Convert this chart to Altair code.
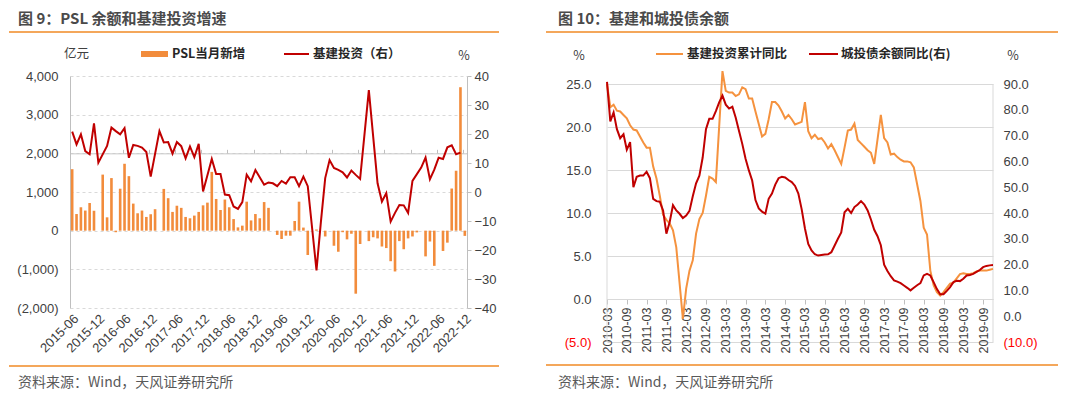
import altair as alt
import pandas as pd


def month_labels(y0, m0, n):
    out = []
    y, m = y0, m0
    for _ in range(n):
        out.append(f"{y}-{m:02d}")
        m += 1
        if m > 12:
            m = 1
            y += 1
    return out


# ---------------- Left panel data (图 9) ----------------
left_months = month_labels(2015, 6, 91)          # 2015-06 ... 2022-12
psl_new = [1590, 430, 605, 520, 715, 515, 0, 1450, 345, 1360, -40,
           1085, 1730, 1410, 700, 450, 520, 355, 425, 555, 0,
           1080, 840, 485, 645, 590, 355, 320, 390, 485, 655, 725, 1520,
           820, 535, 805, 605, 300, 85, 130, 750, 265, 430, 320, 740, 590,
           0, -110, -215, -130, -130, 250, 750, 80, -630, 0, 30, 0, -150, 0,
           -390, -545, -40, -225, -80, -1630, -345, 0,
           -270, -170, -200, -410, -450, -790, -1055, -270, -480, -200, -150, -45,
           0, -665, -280, -910, 0, -525, -310, 1090, 1550, 3710, -135]
infra_yoy = [20.8, 16.4, 19.9, 14.1, 13.0, 23.7, 10.1, None, 15.9, 22.2,
             21.0, 19.9, 22.0, 11.8, 16.2, 15.9, 15.3, 13.8, 5.3, None,
             21.0, 17.1, 17.2, 13.2, 17.2, 15.8, 11.6, 15.7, 12.0, 16.6,
             0.2, None, 11.4, 6.2, 6.2, -0.9, -1.1, -5.0, -5.8, -3.5,
             6.0, 3.7, 7.6, None, 2.5, 3.3, 3.0, 2.0, 3.8, 2.9,
             5.1, 5.1, 2.0, 5.3, 2.0, None, -27.0, -10.5, 4.8, 11.0,
             8.3, 7.6, 6.8, 5.0, 7.4, 5.9, 4.5, None, 35.1, 19.0,
             3.0, -3.3, -0.4, -10.2, -7.2, -4.5, -4.6, -7.2, 3.8, None,
             8.4, 11.9, 4.4, 7.7, 11.8, 11.4, 15.4, 16.1, 13.0, 13.6, None]
left_y_ticks = [-2000, -1000, 0, 1000, 2000, 3000, 4000]
left_y2_ticks = [-40, -30, -20, -10, 0, 10, 20, 30, 40]

# ---------------- Right panel data (图 10) ----------------
right_months = month_labels(2010, 3, 118)        # 2010-03 ... 2019-12
infra_cum_yoy = [25.0, 22.3, 22.6, 21.9, 21.8, 21.4, 21.0, 20.2, 19.7, 19.6,
                 None, 18.2, 17.6, 17.6, 15.4, 14.0, 12.0, 9.8, 9.2, 8.8,
                 8.0, 6.0, None, -2.3, 1.2, 3.3, 4.5, 7.6, 9.3, 10.0,
                 12.0, 14.2, 14.0, 13.6, None, 26.5, 24.2, 24.0, 24.0, 23.6,
                 23.8, 24.6, 24.4, 23.3, 23.3, 21.8, None, 18.9, 19.2, 20.9,
                 22.9, 22.9, 22.5, 21.8, 21.0, 21.4, 20.9, 20.3, None, 20.6,
                 22.9, 19.5, 18.7, 19.1, 18.6, 18.7, 18.2, 17.5, 18.0, 17.3,
                 None, 15.7, 17.6, 19.6, 19.7, 20.4, 18.5, 18.1, 17.7, 17.3,
                 17.0, 15.7, None, 21.4, 18.7, 18.2, 16.8, 16.9, 16.5, 16.2,
                 16.0, 16.0, 15.9, 15.3, None, 11.4, 8.3, 7.5, 3.3, 1.6,
                 0.8, 0.4, 0.8, 1.3, 1.8, 1.9, None, 2.9, 3.0, 2.9,
                 2.9, 3.0, 3.2, 3.3, 3.3, 3.3, 3.4, 3.5]
ct_bond_yoy = [90.8, 75.5, 79.0, 72.5, 69.0, 70.5, 64.5, 67.5, 50.0, 54.0,
               54.5, 54.5, 56.0, 53.5, 45.5, 44.6, 44.4, 41.0, 32.0, 36.5,
               43.0, 41.0, 39.7, 38.0, 39.0, 40.8, 46.5, 51.5, 54.5, 61.5,
               72.5, 76.5, 76.5, 79.5, 82.9, 85.5, 82.0, 80.5, 81.2, 77.0,
               71.9, 66.8, 61.0, 56.5, 52.6, 45.0, 41.8, 40.5, 39.7, 45.5,
               47.5, 51.0, 53.5, 54.0, 53.8, 52.8, 52.0, 50.5, 47.5, 41.5,
               34.0, 28.0, 25.5, 24.0, 23.5, 23.7, 23.9, 24.0, 24.8, 27.4,
               30.0, 32.5, 40.3, 41.6, 40.0, 42.3, 43.3, 44.6, 43.3, 41.0,
               37.5, 33.5, 31.0, 27.5, 20.0, 17.5, 15.5, 13.9, 13.4, 12.8,
               11.9, 11.0, 10.0, 11.0, 12.0, 12.8, 15.8, 16.4, 15.8, 13.2,
               10.5, 8.5, 8.5, 9.8, 11.3, 13.2, 13.7, 13.6, 14.5, 15.8,
               16.0, 16.4, 17.2, 17.9, 19.0, 19.5, 19.7, 19.8]
right_y_ticks = [-5, 0, 5, 10, 15, 20, 25]
right_y2_ticks = [-10, 0, 10, 20, 30, 40, 50, 60, 70, 80, 90]

# ---------------- styling constants ----------------
CJK = "Noto Sans CJK SC"
NUM = "Liberation Sans"
ORANGE_BAR = "#F28C3C"
ORANGE_LINE = "#F5923E"
RED = "#C00000"
SEP = "#F08A24"
GRID = "#D9D9D9"
AXIS = "#BFBFBF"
TXT = "#404040"

LW, LH = 397, 232     # left plot
RW, RH = 386, 266     # right plot

one = pd.DataFrame({"k": [0]})


def text(s, x, y, size=13, weight="normal", color=TXT, align="left", font=CJK):
    return alt.Chart(pd.DataFrame({"t": [s]})).mark_text(
        align=align, baseline="middle", font=font, fontSize=size,
        fontWeight=weight, color=color
    ).encode(x=alt.value(x), y=alt.value(y), text="t:N")


def hrule(x1, x2, y, color, width=1.5):
    return alt.Chart(one).mark_rule(color=color, strokeWidth=width).encode(
        x=alt.value(x1), x2=alt.value(x2), y=alt.value(y))


def vrule(x, y1, y2, color, width=1):
    return alt.Chart(one).mark_rule(color=color, strokeWidth=width).encode(
        x=alt.value(x), y=alt.value(y1), y2=alt.value(y2))


# ---------------- Left panel ----------------
ldf = pd.DataFrame({"month": left_months, "psl": psl_new, "infra": infra_yoy})

xs_left = alt.Scale(type="band", paddingInner=0.4, paddingOuter=0.2)

bars = alt.Chart(ldf).mark_bar(color=ORANGE_BAR).encode(
    x=alt.X("month:O", scale=xs_left, sort=left_months,
            axis=alt.Axis(values=left_months[::6], labelAngle=-45, ticks=False,
                          domain=False, labelPadding=4, title=None,
                          labelFont=NUM, labelFontSize=13, labelColor=TXT)),
    y=alt.Y("psl:Q", scale=alt.Scale(domain=[-2000, 4000], nice=False),
            axis=alt.Axis(values=left_y_ticks, grid=True, gridDash=[3, 3],
                          gridColor=GRID, domain=True, domainColor=AXIS,
                          ticks=False, tickSize=0, labelPadding=12, title=None,
                          labelFont=NUM, labelFontSize=13, labelColor=TXT,
                          labelExpr="datum.value < 0 ? '(' + format(-datum.value, ',') + ')' : format(datum.value, ',')")),
)

line_left = alt.Chart(ldf).transform_filter("isValid(datum.infra)").mark_line(
    color=RED, strokeWidth=2).encode(
    x=alt.X("month:O", scale=xs_left, sort=left_months,
            axis=alt.Axis(values=left_months[::6], labels=False, ticks=True,
                          tickSize=4, tickColor=AXIS, domain=True,
                          domainColor="#C8C8C8", offset=-LH / 3, bandPosition=0,
                          title=None, grid=False)),
    y=alt.Y("infra:Q", scale=alt.Scale(domain=[-40, 40], nice=False),
            axis=alt.Axis(orient="right", values=left_y2_ticks, grid=False,
                          domain=True, domainColor=AXIS, ticks=True, tickSize=4,
                          tickColor=AXIS, labelPadding=3, title=None,
                          labelFont=NUM, labelFontSize=13, labelColor=TXT)),
)

left_deco = [
    hrule(-61, -60, -67, "white", 1),
    text("图 9：PSL 余额和基建投资增速", -52, -57, size=15, weight="bold", color="#4A4A4A"),
    hrule(-61, 429, -44, SEP),
    text("亿元", -6, -22, size=12.5),
    text("%", 394, -20, size=12.5, align="center"),
    alt.Chart(one).mark_rect(color=ORANGE_BAR).encode(
        x=alt.value(71), x2=alt.value(98), y=alt.value(-25), y2=alt.value(-19)),
    text("PSL当月新增", 102, -22, size=12.5, weight="bold", color="#262626"),
    hrule(214, 239, -22, RED, 2),
    text("基建投资（右）", 243, -22, size=12.5, weight="bold", color="#262626"),
    hrule(-61, 429, 290, SEP),
    text("资料来源：Wind，天风证券研究所", -52, 307, size=14, color="#595959"),
]

left = alt.layer(bars, line_left, *left_deco).resolve_scale(
    y="independent").resolve_axis(x="independent").properties(width=LW, height=LH)

# ---------------- Right panel ----------------
rdf = pd.DataFrame({"month": right_months, "cum": infra_cum_yoy, "bond": ct_bond_yoy})
xs_right = alt.Scale(type="point", padding=0)
y_top_left = 25 + 8 / 8.6
y_top_right = 90 + 8 / 2.58
zero_off = RH * 5 / (y_top_left + 5)

red_neg = alt.condition("datum.value < 0", alt.value("#FF0000"), alt.value(TXT))

orange = alt.Chart(rdf).transform_filter("isValid(datum.cum)").mark_line(
    color=ORANGE_LINE, strokeWidth=2).encode(
    x=alt.X("month:O", scale=xs_right, sort=right_months,
            axis=alt.Axis(values=right_months[::6], labelAngle=270, offset=-zero_off,
                          ticks=True, tickSize=5, tickColor=AXIS, domain=True,
                          domainColor=GRID, labelPadding=3, title=None,
                          labelFont=NUM, labelFontSize=12.5, labelColor=TXT)),
    y=alt.Y("cum:Q", scale=alt.Scale(domain=[-5, y_top_left], nice=False, zero=False),
            axis=alt.Axis(values=right_y_ticks, grid=True, gridColor=GRID,
                          domain=False, ticks=False, tickSize=0, labelPadding=16,
                          title=None, labelFont=NUM, labelFontSize=13,
                          labelColor=red_neg,
                          labelExpr="datum.value < 0 ? '(' + format(-datum.value, '.1f') + ')' : format(datum.value, '.1f')")),
)

red = alt.Chart(rdf).mark_line(color=RED, strokeWidth=2).encode(
    x=alt.X("month:O", scale=xs_right, sort=right_months),
    y=alt.Y("bond:Q", scale=alt.Scale(domain=[-10, y_top_right], nice=False, zero=False),
            axis=alt.Axis(orient="right", values=right_y2_ticks, grid=False,
                          domain=False, ticks=False, tickSize=0, labelPadding=10,
                          title=None, labelFont=NUM, labelFontSize=13,
                          labelColor=red_neg,
                          labelExpr="datum.value < 0 ? '(' + format(-datum.value, '.1f') + ')' : format(datum.value, '.1f')")),
)

right_deco = [
    vrule(0, 8, RH, GRID),
    vrule(RW, 8, RH, GRID),
    text("图 10：基建和城投债余额", -49, -57, size=15, weight="bold", color="#4A4A4A"),
    hrule(-61, 451, -44, SEP),
    text("%", -28, -20, size=12.5, align="center"),
    text("%", 406, -20, size=12.5, align="center"),
    hrule(49, 76, -22, ORANGE_LINE, 2),
    text("基建投资累计同比", 80, -22, size=12.5, weight="bold", color="#262626"),
    hrule(202, 231, -22, RED, 2),
    text("城投债余额同比(右)", 234, -22, size=12.5, weight="bold", color="#262626"),
    hrule(-61, 451, 289, SEP),
    text("资料来源：Wind，天风证券研究所", -49, 307, size=14, color="#595959"),
]

right = alt.layer(*right_deco[:2], orange, red, *right_deco[2:]).resolve_scale(
    y="independent").properties(width=RW, height=RH)

chart = alt.hconcat(left, right, spacing=140, bounds="flush").properties(
    padding=0, background="white"
).configure_view(stroke=None)

chart.save("out.html", embed_options={"renderer": "svg", "actions": False})
